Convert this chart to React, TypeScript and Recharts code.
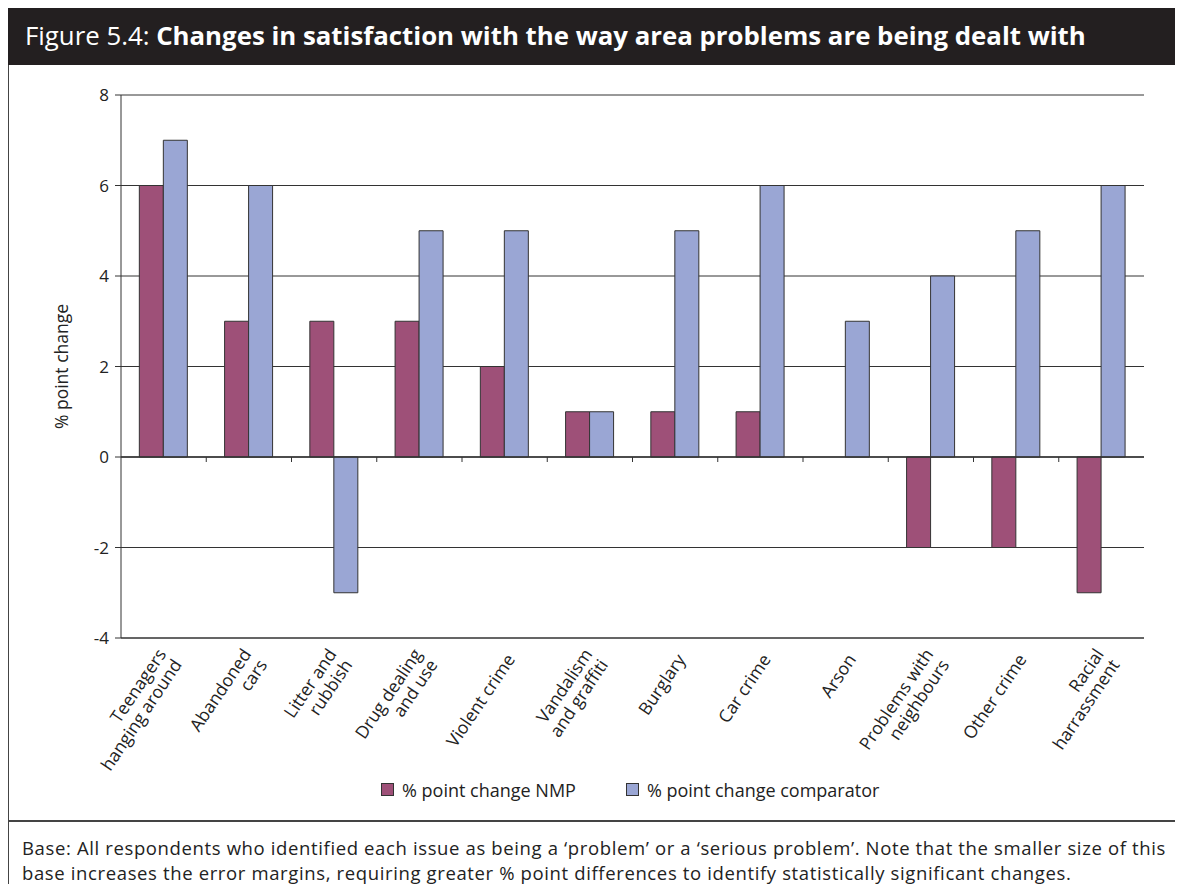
import { BarChart, Bar, XAxis, YAxis, CartesianGrid, ReferenceLine } from "recharts";

const categories = [
  ["Teenagers", "hanging around"],
  ["Abandoned", "cars"],
  ["Litter and", "rubbish"],
  ["Drug dealing", "and use"],
  ["Violent crime"],
  ["Vandalism", "and graffiti"],
  ["Burglary"],
  ["Car crime"],
  ["Arson"],
  ["Problems with", "neighbours"],
  ["Other crime"],
  ["Racial", "harrassment"],
];
const nmpChange = [6, 3, 3, 3, 2, 1, 1, 1, 0, -2, -2, -3];
const comparatorChange = [7, 6, -3, 5, 5, 1, 5, 6, 3, 4, 5, 6];
const yTicks = [-4, -2, 0, 2, 4, 6, 8];

const NMP_COLOR = "#9e5078";
const COMP_COLOR = "#9aa6d4";
const FONT = "'Open Sans', 'Noto Sans', sans-serif";

const data = categories.map((lines, i) => ({
  name: lines.join(" "),
  lines,
  nmp: nmpChange[i],
  comparator: comparatorChange[i],
}));

function CategoryTick(props: any) {
  const { x, y, payload, index } = props;
  const lines: string[] = data[index]?.lines ?? [payload.value];
  const lh = 19;
  const start = -((lines.length - 1) * lh) / 2;
  return (
    <g transform={`translate(${x + 6},${y + 10}) rotate(-56)`}>
      {lines.map((l, i) => (
        <text
          key={i}
          x={0}
          y={start + i * lh}
          dy="0.35em"
          textAnchor="end"
          fontSize={17.5}
          fontFamily={FONT}
          fill="#222"
        >
          {l}
        </text>
      ))}
    </g>
  );
}

// zero line with small tick marks at the category boundaries
function ZeroLine(props: any) {
  const { x1, x2, y1 } = props;
  const step = (x2 - x1) / categories.length;
  return (
    <g>
      <line x1={x1} x2={x2} y1={y1} y2={y1} stroke="#333" strokeWidth={1.3} />
      {categories.slice(1).map((_, i) => (
        <line
          key={i}
          x1={x1 + step * (i + 1)}
          x2={x1 + step * (i + 1)}
          y1={y1}
          y2={y1 + 5}
          stroke="#333"
          strokeWidth={1}
        />
      ))}
    </g>
  );
}

function LegendItem({ color, label }: { color: string; label: string }) {
  return (
    <span style={{ display: "inline-flex", alignItems: "center", marginRight: 50 }}>
      <span
        style={{
          width: 11,
          height: 11,
          background: color,
          border: "1px solid #333",
          marginRight: 8,
        }}
      />
      <span>{label}</span>
    </span>
  );
}

export default function App() {
  return (
    <div
      style={{
        position: "relative",
        width: 1183,
        height: 892,
        margin: -8,
        background: "#fff",
        fontFamily: FONT,
        overflow: "hidden",
      }}
    >
      <div
        style={{
          position: "absolute",
          left: 7,
          top: 5,
          width: 1190,
          height: 900,
          border: "2px solid #444",
          boxSizing: "border-box",
        }}
      />
      <div
        style={{
          position: "absolute",
          left: 7,
          top: 6,
          width: 1176,
          height: 59,
          background: "#231f20",
          color: "#fff",
          fontSize: 25.8,
          lineHeight: "59px",
          paddingLeft: 18,
          boxSizing: "border-box",
          whiteSpace: "nowrap",
        }}
      >
        Figure 5.4: <b>Changes in satisfaction with the way area problems are being dealt with</b>
      </div>

      <div style={{ position: "absolute", left: 2, top: 65 }}>
        <BarChart
          width={1181}
          height={755}
          data={data}
          margin={{ top: 30, right: 39, left: 53, bottom: 0 }}
          barGap={0}
          barCategoryGap="21.5%"
        >
          <CartesianGrid vertical={false} stroke="#333" strokeWidth={1} />
          <XAxis
            dataKey="name"
            interval={0}
            tickLine={false}
            axisLine={{ stroke: "#333" }}
            height={182}
            tick={<CategoryTick />}
          />
          <YAxis
            domain={[-4, 8]}
            ticks={yTicks}
            interval={0}
            width={66}
            tickSize={6}
            tickMargin={6}
            tickLine={{ stroke: "#333" }}
            axisLine={{ stroke: "#333" }}
            tick={{ fontSize: 17, fill: "#222", fontFamily: FONT }}
            label={{
              value: "% point change",
              angle: -90,
              position: "insideLeft",
              offset: 0,
              dx: 7,
              style: { fontSize: 17.5, fill: "#222", fontFamily: FONT, textAnchor: "middle" },
            }}
          />
          <YAxis
            yAxisId="frame"
            orientation="right"
            domain={[-4, 8]}
            width={0}
            tick={false}
            tickLine={false}
            axisLine={{ stroke: "#666" }}
          />
          <ReferenceLine y={0} shape={<ZeroLine />} />
          <Bar dataKey="nmp" name="% point change NMP" fill={NMP_COLOR} stroke="#333" strokeWidth={1} isAnimationActive={false} />
          <Bar
            dataKey="comparator"
            name="% point change comparator"
            fill={COMP_COLOR}
            stroke="#333"
            strokeWidth={1}
            isAnimationActive={false}
          />
        </BarChart>
      </div>

      <div
        style={{
          position: "absolute",
          left: 381,
          top: 777,
          fontSize: 18,
          color: "#222",
          whiteSpace: "nowrap",
        }}
      >
        <LegendItem color={NMP_COLOR} label="% point change NMP" />
        <LegendItem color={COMP_COLOR} label="% point change comparator" />
      </div>

      <div
        style={{
          position: "absolute",
          left: 7,
          top: 820,
          width: 1180,
          borderTop: "2px solid #444",
        }}
      />
      <div
        style={{
          position: "absolute",
          left: 22,
          top: 835,
          fontSize: 18.5,
          letterSpacing: 0.63,
          lineHeight: "25px",
          color: "#222",
          whiteSpace: "nowrap",
        }}
      >
        Base: All respondents who identified each issue as being a ‘problem’ or a ‘serious problem’. Note that the
        smaller size of this
        <br />
        base increases the error margins, requiring greater % point differences to identify statistically significant
        changes.
      </div>
    </div>
  );
}
